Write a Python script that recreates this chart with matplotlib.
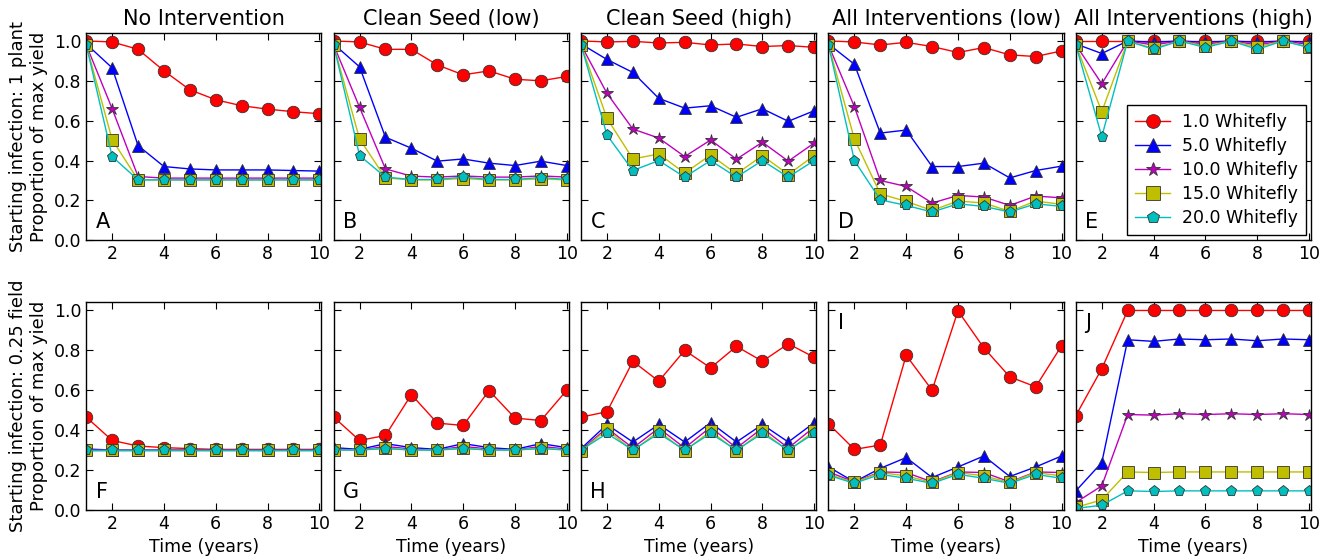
import matplotlib
matplotlib.use('Agg')
import matplotlib.pyplot as plt

years = [1, 2, 3, 4, 5, 6, 7, 8, 9, 10]
titles = ['No Intervention', 'Clean Seed (low)', 'Clean Seed (high)',
          'All Interventions (low)', 'All Interventions (high)']
row_labels = ['Starting infection: 1 plant\nProportion of max yield',
              'Starting infection: 0.25 field\nProportion of max yield']
letters = ['A', 'B', 'C', 'D', 'E', 'F', 'G', 'H', 'I', 'J']
series_names = ['1.0 Whitefly', '5.0 Whitefly', '10.0 Whitefly',
                '15.0 Whitefly', '20.0 Whitefly']

# top row: starting infection 1 plant
a_vals = [
    [1.0, 0.995, 0.958, 0.85, 0.755, 0.705, 0.675, 0.658, 0.645, 0.635],
    [0.985, 0.865, 0.475, 0.37, 0.358, 0.353, 0.353, 0.353, 0.35, 0.347],
    [0.98, 0.66, 0.32, 0.312, 0.312, 0.312, 0.312, 0.312, 0.312, 0.312],
    [0.98, 0.505, 0.303, 0.303, 0.303, 0.303, 0.303, 0.303, 0.303, 0.303],
    [0.98, 0.42, 0.303, 0.303, 0.303, 0.303, 0.303, 0.303, 0.303, 0.303],
]
b_vals = [
    [1.0, 0.995, 0.958, 0.958, 0.88, 0.83, 0.85, 0.808, 0.80, 0.822],
    [0.985, 0.87, 0.517, 0.462, 0.397, 0.408, 0.387, 0.375, 0.397, 0.375],
    [0.98, 0.667, 0.358, 0.322, 0.317, 0.323, 0.317, 0.317, 0.323, 0.317],
    [0.98, 0.508, 0.313, 0.303, 0.303, 0.31, 0.303, 0.303, 0.308, 0.303],
    [0.98, 0.425, 0.317, 0.305, 0.305, 0.317, 0.305, 0.305, 0.315, 0.305],
]
c_vals = [
    [1.0, 0.995, 0.998, 0.99, 0.993, 0.98, 0.985, 0.972, 0.977, 0.968],
    [0.985, 0.907, 0.842, 0.712, 0.663, 0.675, 0.617, 0.66, 0.597, 0.65],
    [0.98, 0.737, 0.558, 0.513, 0.42, 0.503, 0.407, 0.492, 0.397, 0.488],
    [0.98, 0.612, 0.408, 0.433, 0.337, 0.428, 0.333, 0.425, 0.33, 0.425],
    [0.98, 0.528, 0.35, 0.40, 0.317, 0.40, 0.317, 0.40, 0.317, 0.40],
]
d_vals = [
    [1.0, 0.995, 0.98, 0.993, 0.972, 0.942, 0.967, 0.93, 0.922, 0.95],
    [0.985, 0.883, 0.538, 0.553, 0.37, 0.37, 0.387, 0.313, 0.35, 0.372],
    [0.98, 0.67, 0.30, 0.27, 0.187, 0.225, 0.217, 0.175, 0.222, 0.213],
    [0.98, 0.508, 0.233, 0.195, 0.15, 0.197, 0.187, 0.145, 0.197, 0.18],
    [0.98, 0.40, 0.203, 0.175, 0.142, 0.183, 0.17, 0.142, 0.183, 0.17],
]
e_vals = [
    [1.0, 1.0, 1.0, 1.0, 1.0, 1.0, 1.0, 1.0, 1.0, 1.0],
    [0.985, 0.937, 1.0, 0.993, 1.0, 0.993, 1.0, 0.993, 1.0, 0.993],
    [0.98, 0.785, 1.0, 0.98, 1.0, 0.982, 1.0, 0.98, 1.0, 0.982],
    [0.98, 0.645, 1.0, 0.963, 1.0, 0.975, 1.0, 0.97, 1.0, 0.97],
    [0.98, 0.52, 1.0, 0.958, 1.0, 0.967, 1.0, 0.958, 1.0, 0.967],
]

# bottom row: starting infection 0.25 field
f_vals = [
    [0.465, 0.348, 0.32, 0.312, 0.307, 0.303, 0.303, 0.303, 0.303, 0.303],
    [0.305, 0.30, 0.30, 0.30, 0.30, 0.30, 0.30, 0.30, 0.30, 0.30],
    [0.30, 0.30, 0.30, 0.30, 0.30, 0.30, 0.30, 0.30, 0.30, 0.30],
    [0.30, 0.30, 0.30, 0.30, 0.30, 0.30, 0.30, 0.30, 0.30, 0.30],
    [0.30, 0.30, 0.30, 0.30, 0.30, 0.30, 0.30, 0.30, 0.30, 0.30],
]
g_vals = [
    [0.465, 0.348, 0.373, 0.578, 0.435, 0.423, 0.598, 0.46, 0.448, 0.60],
    [0.312, 0.303, 0.332, 0.312, 0.303, 0.332, 0.312, 0.303, 0.332, 0.312],
    [0.305, 0.30, 0.318, 0.305, 0.30, 0.318, 0.305, 0.30, 0.318, 0.305],
    [0.30, 0.30, 0.31, 0.30, 0.30, 0.31, 0.30, 0.30, 0.31, 0.30],
    [0.30, 0.30, 0.307, 0.30, 0.30, 0.307, 0.30, 0.30, 0.307, 0.30],
]
h_vals = [
    [0.465, 0.492, 0.745, 0.645, 0.80, 0.712, 0.82, 0.745, 0.833, 0.765],
    [0.307, 0.428, 0.34, 0.428, 0.34, 0.437, 0.34, 0.428, 0.34, 0.437],
    [0.30, 0.41, 0.31, 0.41, 0.31, 0.415, 0.31, 0.41, 0.31, 0.415],
    [0.295, 0.403, 0.295, 0.395, 0.295, 0.395, 0.295, 0.395, 0.295, 0.395],
    [0.30, 0.383, 0.30, 0.383, 0.30, 0.383, 0.30, 0.383, 0.30, 0.383],
]
i_vals = [
    [0.432, 0.303, 0.325, 0.775, 0.60, 0.998, 0.812, 0.667, 0.617, 0.823],
    [0.215, 0.14, 0.208, 0.262, 0.162, 0.215, 0.27, 0.167, 0.215, 0.27],
    [0.19, 0.14, 0.19, 0.187, 0.14, 0.19, 0.187, 0.14, 0.19, 0.187],
    [0.178, 0.137, 0.187, 0.17, 0.137, 0.187, 0.17, 0.137, 0.187, 0.17],
    [0.173, 0.133, 0.178, 0.158, 0.133, 0.178, 0.158, 0.133, 0.178, 0.158],
]
j_vals = [
    [0.473, 0.708, 1.0, 1.0, 1.0, 1.0, 1.0, 1.0, 1.0, 1.0],
    [0.095, 0.237, 0.853, 0.845, 0.857, 0.853, 0.857, 0.848, 0.857, 0.853],
    [0.037, 0.12, 0.478, 0.475, 0.482, 0.478, 0.482, 0.478, 0.482, 0.478],
    [0.012, 0.05, 0.19, 0.187, 0.19, 0.19, 0.19, 0.19, 0.19, 0.19],
    [0.007, 0.023, 0.095, 0.092, 0.095, 0.095, 0.095, 0.095, 0.095, 0.095],
]

panels = [a_vals, b_vals, c_vals, d_vals, e_vals,
          f_vals, g_vals, h_vals, i_vals, j_vals]

colors = ['#ff0000', '#0000ff', '#bf00bf', '#bfbf00', '#00bfbf']
markers = ['o', '^', '*', 's', 'p']
msizes = [9, 9, 9, 9, 8]

plt.rcParams['font.family'] = 'DejaVu Sans'
fig, axes = plt.subplots(2, 5, figsize=(13.27, 5.59), dpi=100)
fig.subplots_adjust(left=0.065, right=0.988, top=0.941, bottom=0.088,
                    wspace=0.052, hspace=0.3)

for k, ax in enumerate(axes.flat):
    row = k // 5
    col = k % 5
    for s in range(5):
        ax.plot(years, panels[k][s], color=colors[s], marker=markers[s],
                markersize=msizes[s], markeredgecolor='#333333',
                markeredgewidth=0.6, linewidth=1.0, label=series_names[s])
    ax.set_xlim(1, 10.08)
    ax.set_ylim(0, 1.04)
    ax.set_xticks([2, 4, 6, 8, 10])
    ax.set_yticks([0.0, 0.2, 0.4, 0.6, 0.8, 1.0])
    ax.tick_params(direction='in', top=True, right=True, labelsize=12.5,
                   length=5, width=0.8)
    if col == 0:
        ax.set_yticklabels(['0.0', '0.2', '0.4', '0.6', '0.8', '1.0'])
        ax.set_ylabel(row_labels[row], fontsize=13)
    else:
        ax.set_yticklabels([])
    if row == 0:
        ax.set_title(titles[col], fontsize=15)
    else:
        ax.set_xlabel('Time (years)', fontsize=12.5)
    if letters[k] in ('I', 'J'):
        ax.text(0.04, 0.95, letters[k], transform=ax.transAxes,
                fontsize=15, va='top')
    else:
        ax.text(0.04, 0.04, letters[k], transform=ax.transAxes,
                fontsize=15, va='bottom')
    for sp in ax.spines.values():
        sp.set_linewidth(1.0)

axes[0, 4].legend(loc='lower right', numpoints=1, fontsize=12.5,
                  fancybox=False, framealpha=1, edgecolor='k',
                  handlelength=2.0, handletextpad=0.7, borderpad=0.45,
                  labelspacing=0.35, borderaxespad=0.3, markerscale=1.1)

fig.savefig('out.png', dpi=100, facecolor='white')
